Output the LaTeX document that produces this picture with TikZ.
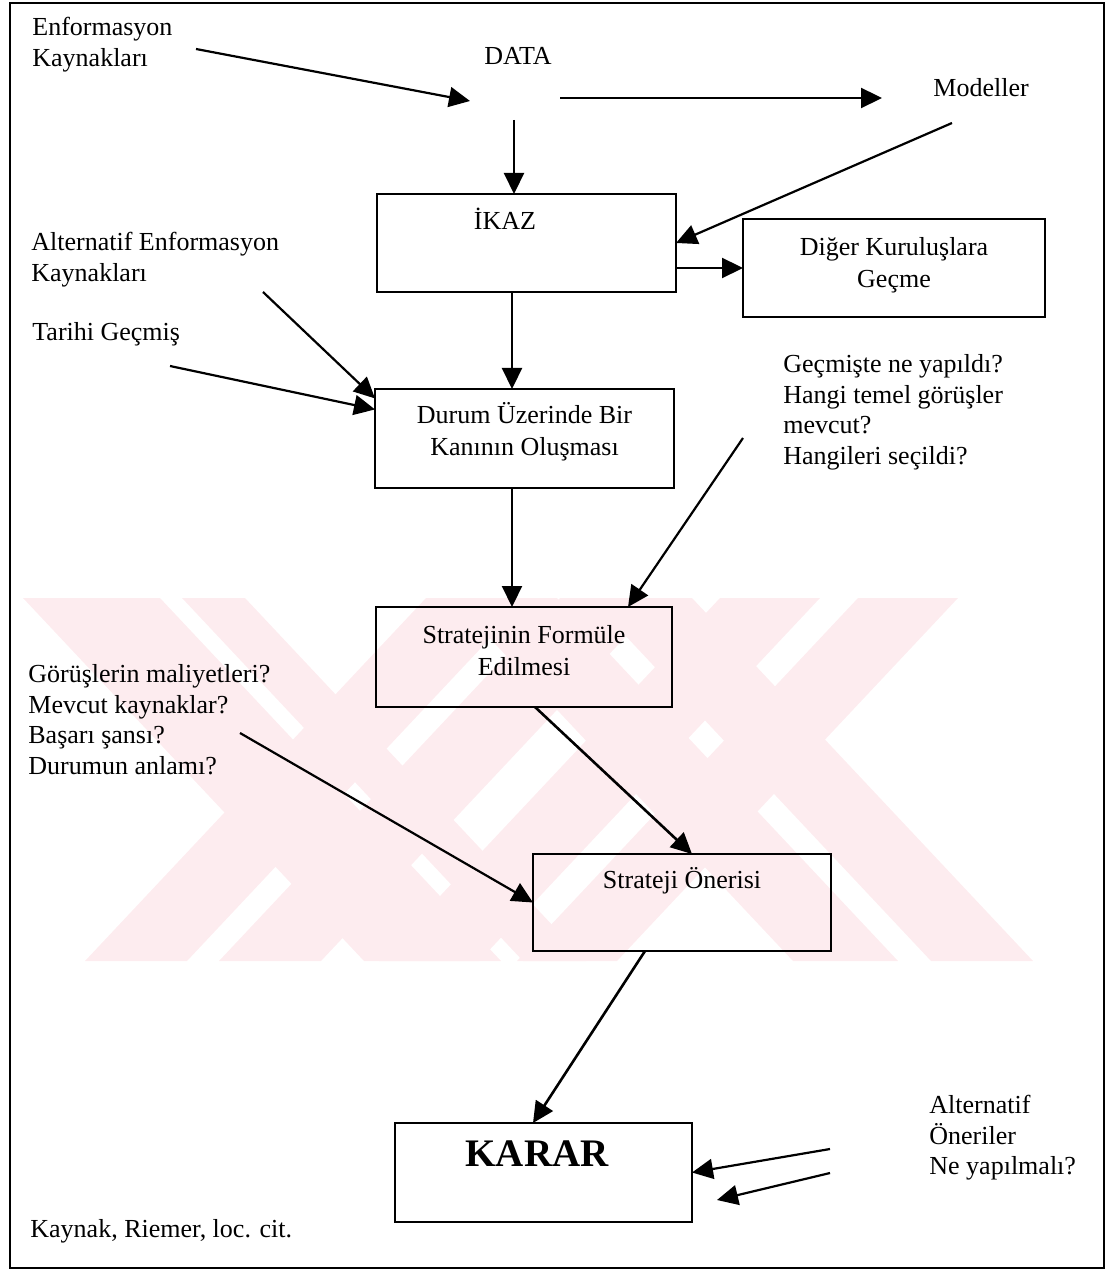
\documentclass[tikz,border=0pt]{standalone}
\usepackage{fontspec}
\setmainfont{Liberation Serif}
\usetikzlibrary{arrows.meta}
\definecolor{wm}{RGB}{253,236,239}
\newcommand{\outfont}{\fontsize{13pt}{15.3pt}\selectfont}
\newcommand{\boxfont}{\fontsize{13pt}{16pt}\selectfont}
\begin{document}
\begin{tikzpicture}[x=0.5pt,y=-0.5pt,
  txt/.style={anchor=north west, inner sep=0pt, align=left, font=\outfont},
  lbl/.style={anchor=base west, inner sep=0pt, font=\outfont},
  clbl/.style={anchor=base, inner sep=0pt, font=\boxfont},
  ctxt/.style={anchor=north, inner sep=0pt, align=center, font=\boxfont},
  box/.style={draw, line width=1.1pt, inner sep=0pt, outer sep=0pt},
  arr/.style={draw, line width=1.1pt, -{Triangle[length=10.5pt,width=10pt]}},
  wmark/.style={fill=wm, draw=none}
]
\useasboundingbox (0,0) rectangle (1107,1272);
% watermark
\fill[wm] (23,598) -- (160,598) -- (501,961) -- (364,961) -- cycle;
\fill[wm] (182,598) -- (245,598) -- (586,961) -- (523,961) -- cycle;
\fill[wm] (85,961) -- (187,961) -- (528,598) -- (426,598) -- cycle;
\fill[wm] (219,961) -- (321,961) -- (662,598) -- (560,598) -- cycle;
\fill[wm] (452,598) -- (557,598) -- (898,961) -- (793,961) -- cycle;
\fill[wm] (590,598) -- (692,598) -- (1033,961) -- (931,961) -- cycle;
\fill[wm] (379,961) -- (479,961) -- (820,598) -- (720,598) -- cycle;
\fill[wm] (517,961) -- (617,961) -- (958,598) -- (858,598) -- cycle;
% frame
\draw[line width=1.2pt] (10,3) rectangle (1104,1268);
% boxes
\node[box, minimum width=149.5pt, minimum height=49pt] (ikaz) at (526.5,243) {};
\node[box, minimum width=151pt, minimum height=49pt] (diger) at (894,268) {};
\node[box, minimum width=149.5pt, minimum height=49.5pt] (durum) at (524.5,438.5) {};
\node[box, minimum width=148pt, minimum height=50pt] (formule) at (524,657) {};
\node[box, minimum width=149pt, minimum height=48.5pt] (oneri) at (682,902.5) {};
\node[box, minimum width=148.5pt, minimum height=49.5pt] (karar) at (543.5,1172.5) {};
% box texts
\node[clbl] (ikazT) at (505,230) {İKAZ};
\node[ctxt] (digerT) at (894,232.6) {\strut Diğer Kuruluşlara\\Geçme};
\node[ctxt] (durumT) at (524.5,400.6) {\strut Durum Üzerinde Bir\\Kanının Oluşması};
\node[ctxt] (formuleT) at (524,620.6) {\strut Stratejinin Formüle\\Edilmesi};
\node[clbl] (oneriT) at (682,888) {Strateji Önerisi};
\node[anchor=base, inner sep=0pt, font=\fontsize{19.5pt}{23pt}\selectfont\bfseries] (kararT) at (537,1166) {KARAR};
% free texts
\node[anchor=base, inner sep=0pt, font=\outfont] (data) at (518,65) {DATA};
\node[lbl] (modeller) at (933,97) {Modeller};
\node[txt] (enf) at (32,13.6) {\strut Enformasyon\\Kaynakları};
\node[txt] (altenf) at (31,228.6) {\strut Alternatif Enformasyon\\Kaynakları};
\node[lbl] (tarihi) at (32,341) {Tarihi Geçmiş};
\node[txt] (gecmis) at (783,350.6) {\strut Geçmişte ne yapıldı?\\Hangi temel görüşler\\mevcut?\\Hangileri seçildi?};
\node[txt] (gorus) at (28,660.6) {\strut Görüşlerin maliyetleri?\\Mevcut kaynaklar?\\Başarı şansı?\\Durumun anlamı?};
\node[txt] (altoner) at (929,1091.6) {\strut Alternatif\\Öneriler\\Ne yapılmalı?};
\node[lbl] (kaynak) at (30,1237) {Kaynak, Riemer, loc. cit.};
% connector end points
\coordinate (e1) at (196,49);
\coordinate (e2) at (470,101);
\coordinate (d1) at (560,98);
\coordinate (d2) at (882,98);
\coordinate (d3) at (514,120);
\coordinate (m1) at (952,123);
\coordinate (v1) at (512,0);
\coordinate (a1) at (263,292);
\coordinate (t1) at (170,366);
\coordinate (g1) at (743,438);
\coordinate (g2) at (628,0);
\coordinate (f1) at (535,0);
\coordinate (f2) at (692,0);
\coordinate (gr1) at (240,733);
\coordinate (o1) at (645,0);
\coordinate (k1) at (533,0);
\coordinate (ao1) at (830,1149);
\coordinate (ao2) at (830,1173);
\coordinate (ao3) at (717,1200);
% connectors
\draw[arr] (e1) -- (e2);
\draw[arr] (d1) -- (d2);
\draw[arr] (d3) -- (d3 |- ikaz.north);
\draw[arr] (m1) -- (ikaz.east);
\draw[arr] (ikaz.east |- diger.west) -- (diger.west);
\draw[arr] (v1 |- ikaz.south) -- (v1 |- durum.north);
\draw[arr] (a1) -- (durum.165);
\draw[arr] (t1) -- (durum.169.4);
\draw[arr] (v1 |- durum.south) -- (v1 |- formule.north);
\draw[arr] (g1) -- (g2 |- formule.north);
\draw[arr, line width=1.3pt] (f1 |- formule.south) -- (f2 |- oneri.north);
\draw[arr] (gr1) -- (oneri.west);
\draw[arr, line width=1.3pt] (o1 |- oneri.south) -- (k1 |- karar.north);
\draw[arr] (ao1) -- (karar.east);
\draw[arr] (ao2) -- (ao3);
\end{tikzpicture}
\end{document}
